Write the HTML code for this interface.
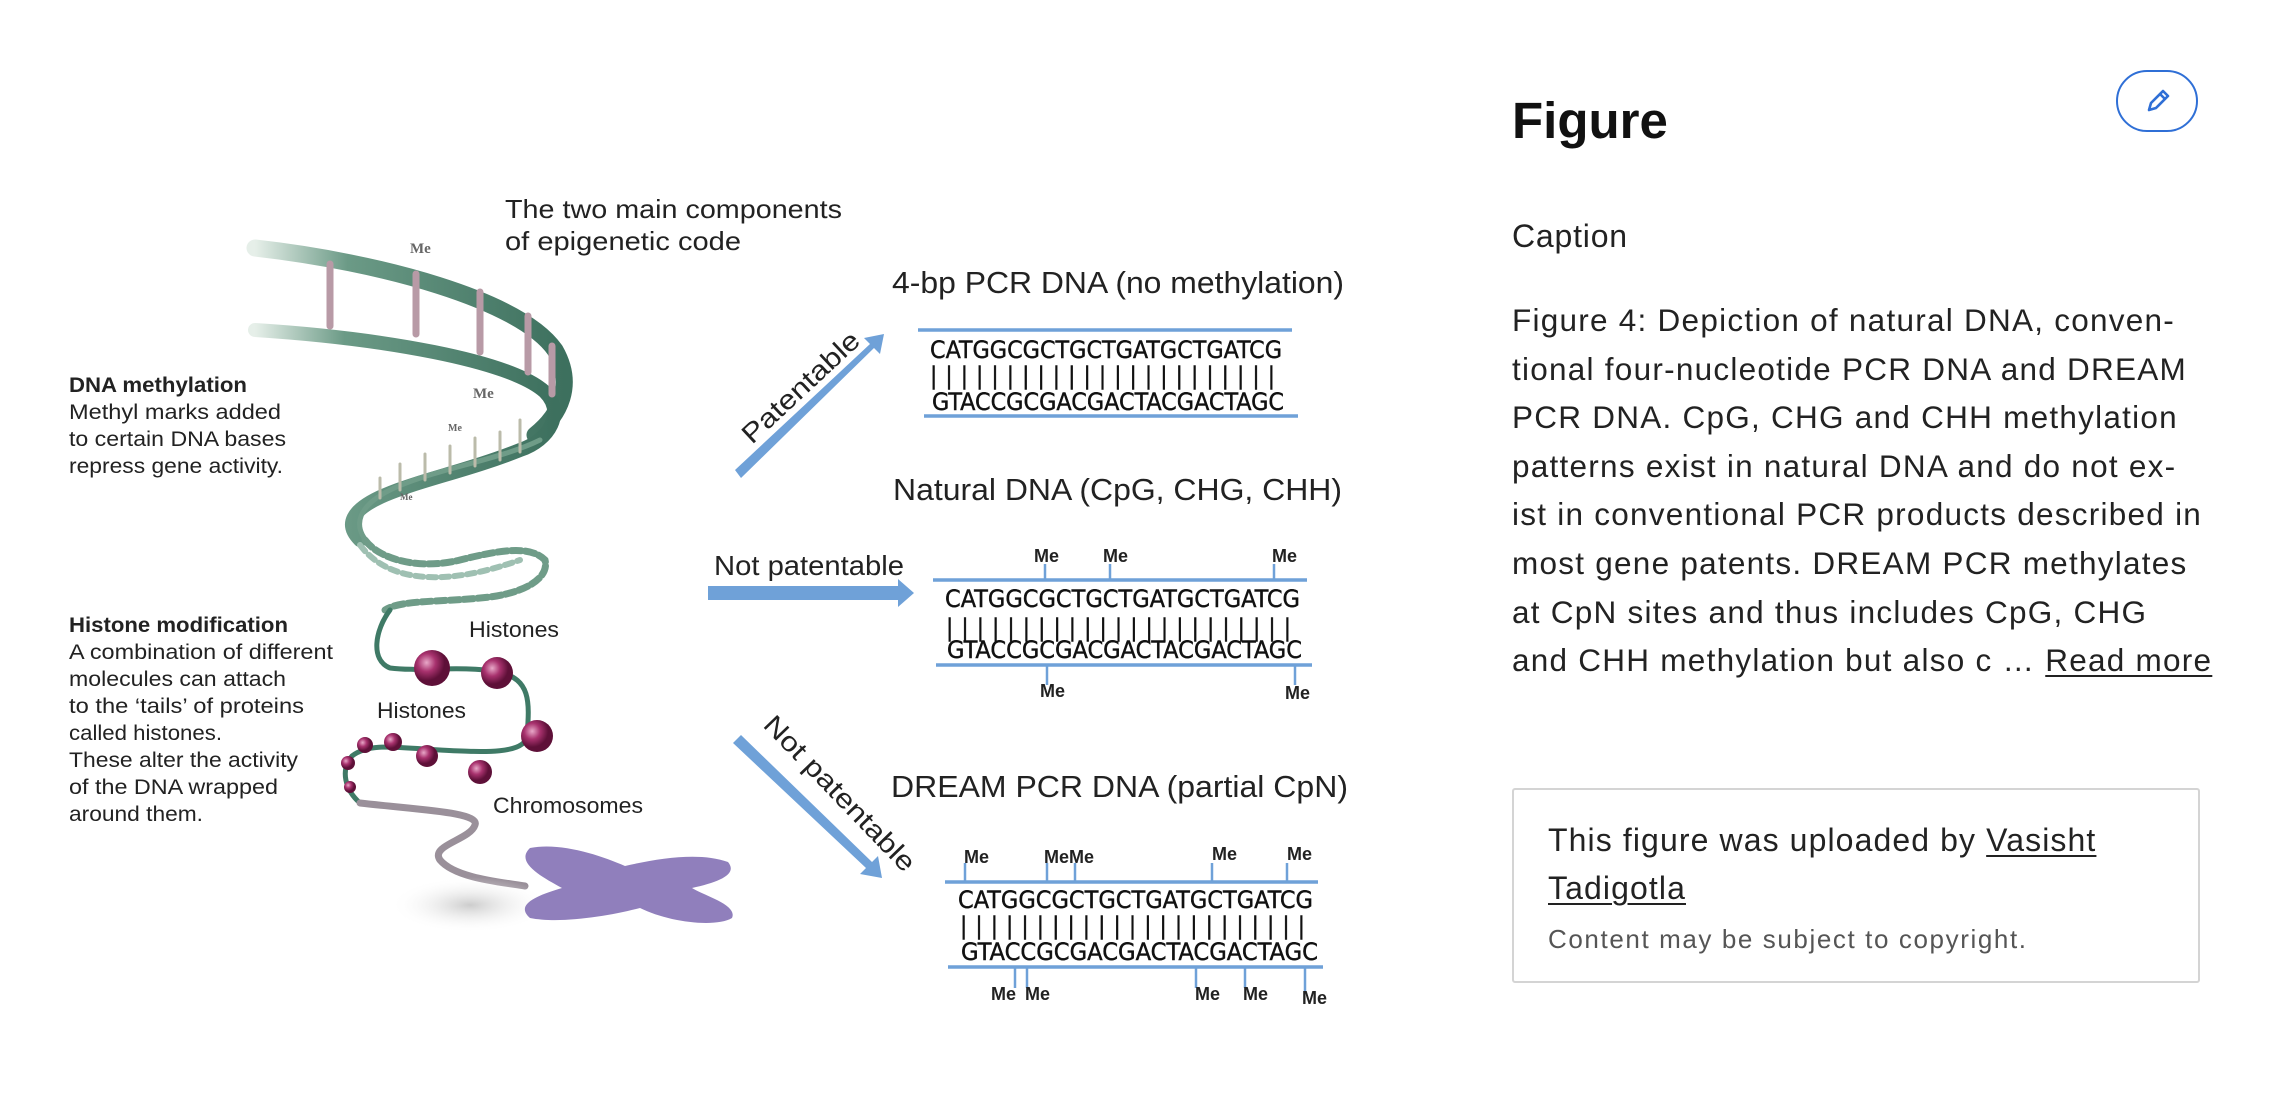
<!DOCTYPE html>
<html><head><meta charset="utf-8"><style>
html,body{margin:0;padding:0;background:#fff;width:2288px;height:1110px;overflow:hidden;font-family:"Liberation Sans",sans-serif;color:#1a1a1a}
.fig{position:absolute;left:0;top:0}
h1{position:absolute;left:1512px;top:95px;margin:0;font-size:51px;font-weight:bold;line-height:1;color:#111}
.edit{position:absolute;left:2116px;top:70px;width:82px;height:62px;border:2px solid #2f6fd6;border-radius:32px;box-sizing:border-box}
.cap{position:absolute;left:1512px;top:218px;font-size:32px;color:#222;letter-spacing:0.8px}
.body{position:absolute;left:1512px;top:296px;width:720px;font-size:31.5px;line-height:48.6px;color:#222;white-space:nowrap;letter-spacing:1.25px}
.box{position:absolute;left:1512px;top:788px;width:688px;height:195px;border:2px solid #d4d4d4;border-radius:3px;box-sizing:border-box}
.box .t{position:absolute;left:34px;top:26px;font-size:32px;line-height:48px;color:#222;letter-spacing:1.1px}
.box .s{position:absolute;left:34px;top:134px;font-size:26px;color:#555;letter-spacing:1.6px}
u{text-decoration-thickness:2px;text-underline-offset:4px}
</style></head><body>
<svg class="fig" width="1400" height="1110" viewBox="0 0 1400 1110" xmlns="http://www.w3.org/2000/svg">
<defs>
<linearGradient id="g1" x1="0" x2="1"><stop offset="0" stop-color="#e6efe9"/><stop offset="0.3" stop-color="#6b9a86"/><stop offset="1" stop-color="#3d705e"/></linearGradient>
<radialGradient id="ball" cx="0.35" cy="0.35"><stop offset="0" stop-color="#e8a8c8"/><stop offset="0.5" stop-color="#a8326e"/><stop offset="1" stop-color="#5e1038"/></radialGradient>
<radialGradient id="sh"><stop offset="0" stop-color="#ccc"/><stop offset="1" stop-color="#fff" stop-opacity="0"/></radialGradient>
</defs>
<g fill="none" stroke-linecap="round">
<path d="M255,248 C380,262 520,300 555,350 C575,385 560,415 535,435" stroke="url(#g1)" stroke-width="17"/>
<path d="M255,330 C380,338 510,360 545,392 C565,412 550,440 520,450 C470,470 420,480 385,495 C350,510 345,525 360,540" stroke="url(#g1)" stroke-width="14"/>
<path d="M540,440 C500,460 430,470 390,490 C360,505 350,525 370,545" stroke="#6f9c88" stroke-width="5"/>
<g stroke="#b89aa6" stroke-width="7">
<line x1="330" y1="264" x2="330" y2="326"/><line x1="416" y1="274" x2="416" y2="334"/><line x1="480" y1="292" x2="480" y2="352"/><line x1="528" y1="316" x2="528" y2="372"/><line x1="552" y1="346" x2="552" y2="394"/>
</g>
<g stroke="#bba" stroke-width="3">
<line x1="520" y1="420" x2="520" y2="452"/><line x1="500" y1="432" x2="500" y2="460"/><line x1="475" y1="438" x2="475" y2="466"/><line x1="450" y1="446" x2="450" y2="473"/><line x1="425" y1="454" x2="425" y2="480"/><line x1="400" y1="464" x2="400" y2="490"/><line x1="380" y1="478" x2="380" y2="498"/>
</g>
<path d="M365,540 C380,560 420,570 460,560 C500,550 530,545 545,560 C550,580 520,595 480,598 C440,602 400,600 385,610" stroke="#6f9c88" stroke-width="7" stroke-dasharray="10 4"/>
<path d="M360,545 C390,585 450,585 520,560" stroke="#9fc0b2" stroke-width="6" stroke-dasharray="8 5"/>
<path d="M390,610 C375,630 370,660 390,668 C420,672 460,665 500,672 C530,680 530,700 527,736 C525,755 480,752 440,750 C400,748 370,742 352,756 C340,770 345,790 360,803" stroke="#3f7a66" stroke-width="5"/>
<path d="M360,803 C420,810 480,812 475,825 C470,840 430,845 440,860 C455,878 500,882 525,886" stroke="#9a909a" stroke-width="7"/>
</g>
<ellipse cx="470" cy="905" rx="80" ry="28" fill="url(#sh)"/>
<g fill="#8a78b8" opacity="0.95">
<path d="M530,848 C560,842 600,855 625,866 C660,858 700,852 728,862 C738,874 720,882 692,888 C705,896 738,905 732,918 C715,928 668,922 640,908 C610,916 560,924 530,918 C515,905 535,896 562,888 C540,876 515,862 530,848Z"/>
</g>
<g>
<circle cx="432" cy="668" r="18" fill="url(#ball)"/><circle cx="497" cy="673" r="16" fill="url(#ball)"/><circle cx="537" cy="736" r="16" fill="url(#ball)"/>
<circle cx="480" cy="772" r="12" fill="url(#ball)"/><circle cx="427" cy="756" r="11" fill="url(#ball)"/><circle cx="393" cy="742" r="9" fill="url(#ball)"/><circle cx="365" cy="745" r="8" fill="url(#ball)"/><circle cx="348" cy="763" r="7" fill="url(#ball)"/><circle cx="350" cy="787" r="6" fill="url(#ball)"/>
</g>
<g font-family="'Liberation Serif',serif" font-weight="bold" fill="#666">
<text x="410" y="253" font-size="15">Me</text><text x="473" y="398" font-size="15">Me</text><text x="448" y="431" font-size="10">Me</text><text x="400" y="500" font-size="9">Me</text>
</g>
<g font-family="'Liberation Sans',sans-serif" fill="#222">
<text x="505" y="218" font-size="26" textLength="337" lengthAdjust="spacingAndGlyphs">The two main components</text>
<text x="505" y="250" font-size="26" textLength="236" lengthAdjust="spacingAndGlyphs">of epigenetic code</text>
<text x="69" y="392" font-size="21" font-weight="bold" textLength="178" lengthAdjust="spacingAndGlyphs">DNA methylation</text>
<text x="69" y="419" font-size="21" textLength="212" lengthAdjust="spacingAndGlyphs">Methyl marks added</text>
<text x="69" y="446" font-size="21" textLength="217" lengthAdjust="spacingAndGlyphs">to certain DNA bases</text>
<text x="69" y="473" font-size="21" textLength="214" lengthAdjust="spacingAndGlyphs">repress gene activity.</text>
<text x="69" y="632" font-size="21" font-weight="bold" textLength="219" lengthAdjust="spacingAndGlyphs">Histone modification</text>
<text x="69" y="659" font-size="21" textLength="264" lengthAdjust="spacingAndGlyphs">A combination of different</text>
<text x="69" y="686" font-size="21" textLength="217" lengthAdjust="spacingAndGlyphs">molecules can attach</text>
<text x="69" y="713" font-size="21" textLength="235" lengthAdjust="spacingAndGlyphs">to the ‘tails’ of proteins</text>
<text x="69" y="740" font-size="21" textLength="153" lengthAdjust="spacingAndGlyphs">called histones.</text>
<text x="69" y="767" font-size="21" textLength="229" lengthAdjust="spacingAndGlyphs">These alter the activity</text>
<text x="69" y="794" font-size="21" textLength="209" lengthAdjust="spacingAndGlyphs">of the DNA wrapped</text>
<text x="69" y="821" font-size="21" textLength="134" lengthAdjust="spacingAndGlyphs">around them.</text>
<text x="469" y="637" font-size="22" textLength="90" lengthAdjust="spacingAndGlyphs">Histones</text>
<text x="377" y="718" font-size="22" textLength="89" lengthAdjust="spacingAndGlyphs">Histones</text>
<text x="493" y="813" font-size="22" textLength="150" lengthAdjust="spacingAndGlyphs">Chromosomes</text>
</g>
<g fill="#6fa1d8">
<polygon points="735,470 870,344 864,338 884,334 880,354 874,348 741,478"/>
<polygon points="708,586 898,586 898,579 914,593 898,607 898,600 708,600"/>
<polygon points="741,735 872,862 878,856 882,878 860,874 866,868 733,743"/>
</g>
<g font-family="'Liberation Sans',sans-serif" fill="#222">
<text x="0" y="0" font-size="27" transform="translate(752,445) rotate(-43)" textLength="150" lengthAdjust="spacingAndGlyphs">Patentable</text>
<text x="714" y="575" font-size="28" textLength="190" lengthAdjust="spacingAndGlyphs">Not patentable</text>
<text x="0" y="0" font-size="27" transform="translate(762,726) rotate(46)" textLength="205" lengthAdjust="spacingAndGlyphs">Not patentable</text>
<text x="892" y="293" font-size="31" textLength="452" lengthAdjust="spacingAndGlyphs">4-bp PCR DNA (no methylation)</text>
<text x="893" y="500" font-size="31" textLength="449" lengthAdjust="spacingAndGlyphs">Natural DNA (CpG, CHG, CHH)</text>
<text x="891" y="797" font-size="31" textLength="457" lengthAdjust="spacingAndGlyphs">DREAM PCR DNA (partial CpN)</text>
</g>
<g stroke="#6fa1d8" stroke-width="3.5">
<line x1="918" y1="330" x2="1292" y2="330"/><line x1="924" y1="416" x2="1298" y2="416"/>
<line x1="933" y1="580" x2="1307" y2="580"/><line x1="936" y1="665" x2="1312" y2="665"/>
<line x1="945" y1="882" x2="1318" y2="882"/><line x1="948" y1="967" x2="1323" y2="967"/>
</g>
<g stroke="#6fa1d8" stroke-width="2.5">
<line x1="1045" y1="564" x2="1045" y2="580"/><line x1="1110" y1="564" x2="1110" y2="580"/><line x1="1274" y1="564" x2="1274" y2="580"/>
<line x1="1047" y1="665" x2="1047" y2="685"/><line x1="1295" y1="665" x2="1295" y2="685"/>
<line x1="965" y1="863" x2="965" y2="882"/><line x1="1047" y1="863" x2="1047" y2="882"/><line x1="1075" y1="863" x2="1075" y2="882"/><line x1="1212" y1="863" x2="1212" y2="882"/><line x1="1287" y1="863" x2="1287" y2="882"/>
<line x1="1015" y1="967" x2="1015" y2="988"/><line x1="1027" y1="967" x2="1027" y2="988"/><line x1="1196" y1="967" x2="1196" y2="988"/><line x1="1245" y1="967" x2="1245" y2="988"/><line x1="1305" y1="967" x2="1305" y2="992"/>
</g>
<g font-family="'DejaVu Sans Condensed','Liberation Sans',sans-serif" fill="#111" font-size="24" stroke="#111" stroke-width="0.4">
<text x="930" y="358" textLength="352" lengthAdjust="spacingAndGlyphs">CATGGCGCTGCTGATGCTGATCG</text>
<text x="930" y="384" textLength="345" lengthAdjust="spacing">|||||||||||||||||||||||</text>
<text x="932" y="410" textLength="352" lengthAdjust="spacingAndGlyphs">GTACCGCGACGACTACGACTAGC</text>
<text x="945" y="607" textLength="355" lengthAdjust="spacingAndGlyphs">CATGGCGCTGCTGATGCTGATCG</text>
<text x="946" y="636" textLength="345" lengthAdjust="spacing">|||||||||||||||||||||||</text>
<text x="947" y="658" textLength="355" lengthAdjust="spacingAndGlyphs">GTACCGCGACGACTACGACTAGC</text>
<text x="958" y="908" textLength="355" lengthAdjust="spacingAndGlyphs">CATGGCGCTGCTGATGCTGATCG</text>
<text x="960" y="934" textLength="345" lengthAdjust="spacing">|||||||||||||||||||||||</text>
<text x="961" y="960" textLength="357" lengthAdjust="spacingAndGlyphs">GTACCGCGACGACTACGACTAGC</text>
</g>
<g font-family="'Liberation Sans',sans-serif" font-weight="bold" fill="#222" font-size="18">
<text x="1034" y="562">Me</text><text x="1103" y="562">Me</text><text x="1272" y="562">Me</text>
<text x="1040" y="697">Me</text><text x="1285" y="699">Me</text>
<text x="964" y="863">Me</text><text x="1044" y="863">MeMe</text><text x="1212" y="860">Me</text><text x="1287" y="860">Me</text>
<text x="991" y="1000">Me</text><text x="1025" y="1000">Me</text><text x="1195" y="1000">Me</text><text x="1243" y="1000">Me</text><text x="1302" y="1004">Me</text>
</g>
</svg>
<h1>Figure</h1>
<div class="edit"><svg width="78" height="58" viewBox="0 0 78 58"><g fill="none" stroke="#2f6fd6" stroke-width="2.6" stroke-linejoin="round"><path d="M31,38 L33,31 L45,19 L50,24 L38,36 Z"/><line x1="42" y1="22" x2="47" y2="27"/></g></svg></div>
<div class="cap">Caption</div>
<div class="body">Figure 4: Depiction of natural DNA, conven-<br>tional four-nucleotide PCR DNA and DREAM<br>PCR DNA. CpG, CHG and CHH methylation<br>patterns exist in natural DNA and do not ex-<br>ist in conventional PCR products described in<br>most gene patents. DREAM PCR methylates<br>at CpN sites and thus includes CpG, CHG<br>and CHH methylation but also c … <u>Read more</u></div>
<div class="box"><div class="t">This figure was uploaded by <u>Vasisht</u><br><u>Tadigotla</u></div><div class="s">Content may be subject to copyright.</div></div>
</body></html>
